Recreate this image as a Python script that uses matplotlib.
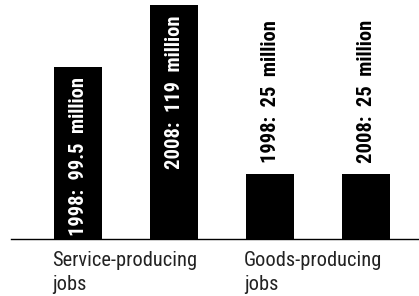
import matplotlib.pyplot as plt

categories = ["Service-producing\njobs", "Goods-producing\njobs"]
bar_labels = ["1998:  99.5  million", "2008:  119  million", "1998:  25  million", "2008:  25  million"]
# drawn heights as they appear in the picture (chart is not to scale)
bar_heights = [87.5, 119, 33.1, 33.1]
label_inside = [True, True, False, False]

font = ["Roboto Condensed", "DejaVu Sans"]

fig = plt.figure(figsize=(4.19, 2.96), dpi=100)
ax = fig.add_axes([11 / 419, 57 / 296, 408 / 419, 239 / 296])

pos = [0, 1, 2, 3]
ax.bar(pos, bar_heights, width=0.5, color="black")
ax.set_xlim(-0.698, 3.552)
ax.set_ylim(0, 121.5)

for x, h, lab, inside in zip(pos, bar_heights, bar_labels, label_inside):
    if inside:
        ax.annotate(lab, (x, h), xytext=(0, -7.5), textcoords="offset points",
                    rotation=90, ha="center", va="top", color="white",
                    fontsize=14.8, fontweight="bold", family=font)
    else:
        ax.annotate(lab, (x, h), xytext=(0, 8), textcoords="offset points",
                    rotation=90, ha="center", va="bottom", color="black",
                    fontsize=14.8, fontweight="bold", family=font)

for i, cat in enumerate(categories):
    ax.annotate(cat, (pos[2 * i] - 0.27, 0), xytext=(0, -9), textcoords="offset points",
                ha="left", va="top", fontsize=14.7, color="#222222", family=font,
                linespacing=1.3)

for s in ["top", "left", "right"]:
    ax.spines[s].set_visible(False)
ax.spines["bottom"].set_linewidth(1.0)
ax.set_xticks([])
ax.set_yticks([])

fig.savefig("out.png", dpi=100)
